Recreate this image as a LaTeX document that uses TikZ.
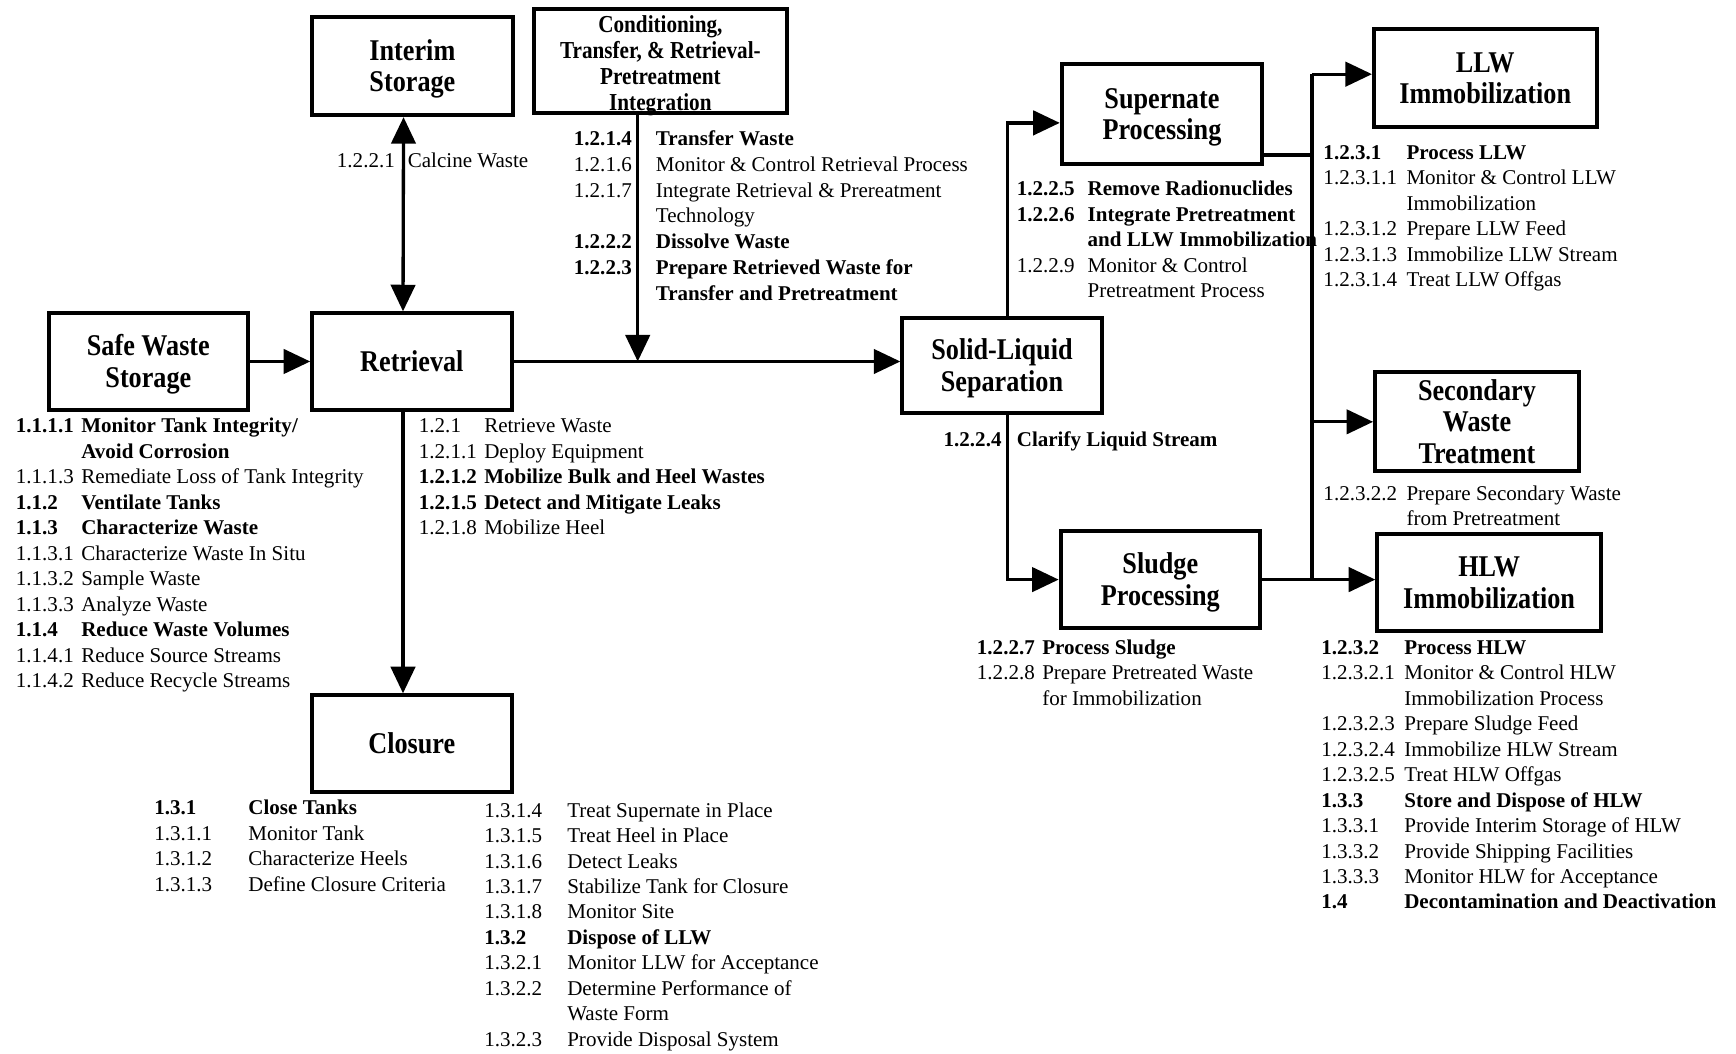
\documentclass[tikz,border=0pt]{standalone}
\usepackage{fontspec}
\setmainfont{Liberation Serif}
\newfontfamily\boxfont{Liberation Serif}[FakeStretch=0.87]
\usepackage{array}
\usetikzlibrary{arrows.meta}
\newcolumntype{R}[1]{>{\raggedleft\arraybackslash}p{#1}}
\newcommand\wbs[2]{\begin{tabular}[t]{@{}p{#1}@{}l@{}}#2\end{tabular}}
\newcommand\wbsr[2]{\begin{tabular}[t]{@{}R{#1}@{\hspace{11pt}}l@{}}#2\end{tabular}}
\newcommand\bd[1]{\textbf{#1}}
\newcommand\bt[1]{\rule{0pt}{12.5pt}#1\rule[-3.5pt]{0pt}{0pt}}
\begin{document}
\begin{tikzpicture}[x=0.5pt, y=-0.5pt,
  box/.style={draw, line width=1.8pt, align=center, inner sep=0pt,
    font=\boxfont\bfseries\fontsize{13.6}{14.3}\selectfont},
  lst/.style={inner sep=0pt, anchor=base west, font=\fontsize{9.5}{11.5}\selectfont},
  lbl/.style={inner sep=0pt, font=\fontsize{9.5}{11.5}\selectfont},
  ln/.style={line width=1.5pt},
  arr/.style={line width=1.5pt, -{Triangle[length=12pt,width=11pt]}},
  darr/.style={line width=1.5pt, {Triangle[length=12pt,width=11pt]}-{Triangle[length=12pt,width=11pt]}}]
\useasboundingbox (0,0) rectangle (1568,952);

% boxes
\node[box, minimum width=90.5pt, minimum height=44.5pt] (int) at (372.5,59.5) {\bt{Interim\\Storage}};
\node[box, minimum width=114.5pt, minimum height=47pt, font=\boxfont\bfseries\fontsize{11}{11.7}\selectfont] (cond) at (596.5,55) {\rule{0pt}{10.65pt}Conditioning,\\Transfer, \& Retrieval-\\Pretreatment\\\raisebox{0pt}[\height][0pt]{Integration}\rule[-1.25pt]{0pt}{0pt}};
\node[box, minimum width=90pt, minimum height=43.5pt] (sws) at (134,326.5) {\bt{Safe Waste\\Storage}};
\node[box, minimum width=90pt, minimum height=43.5pt] (ret) at (372,326.5) {\bt{Retrieval}};
\node[box, minimum width=90pt, minimum height=43.5pt] (clo) at (372,671.5) {\bt{Closure}};
\node[box, minimum width=90pt, minimum height=43pt] (sls) at (905,330) {\bt{Solid-Liquid\\Separation}};
\node[box, minimum width=90.5pt, minimum height=45pt] (sup) at (1049.5,103) {\bt{Supernate\\Processing}};
\node[box, minimum width=90pt, minimum height=43.5pt] (slu) at (1048,523.5) {\bt{Sludge\\Processing}};
\node[box, minimum width=100.5pt, minimum height=44.5pt] (llw) at (1341.5,70.5) {\bt{LLW\\Immobilization}};
\node[box, minimum width=92pt, minimum height=44pt] (sec) at (1334,381) {\bt{Secondary\\Waste\\Treatment}};
\node[box, minimum width=101pt, minimum height=44pt] (hlw) at (1345,526) {\bt{HLW\\Immobilization}};

% connectors
\draw[arr] (sws.east) -- (ret.west);
\draw[darr] ([xshift=-4pt]int.south) -- ([xshift=-4pt]ret.north);
\draw[arr] ([xshift=-4pt]ret.south) -- ([xshift=-4pt]clo.north);
\draw[arr] (ret.east) -- (sls.west |- ret.east);
\draw[arr] ([xshift=-10.25pt]cond.south) -- ([xshift=-10.25pt]cond.south |- ret.east);
\draw[arr] ([xshift=2.5pt]sls.north) |- ([yshift=-4pt]sup.west);
\draw[arr] ([xshift=2.5pt]sls.south) |- (slu.west);
\draw[arr] (slu.east) -- (slu.east -| hlw.west);
\coordinate (btop) at (1185,67);
\coordinate (bbot) at (1185,524);
\draw[ln] ([yshift=-18.5pt]sup.east) -- ([yshift=-18.5pt]sup.east -| btop);
\draw[ln] (btop) -- (bbot);
\draw[arr] (btop) -- (btop -| llw.west);
\draw[arr] (btop |- sec.west) -- (sec.west);

% connector labels
\node[lbl, anchor=base east] (l1221n) at (357,151) {1.2.2.1};
\node[lbl, anchor=base west] (l1221t) at (368,151) {Calcine Waste};
\node[lbl, anchor=base east] (l1224n) at (905,403) {\bd{1.2.2.4}};
\node[lbl, anchor=base west] (l1224t) at (918,403) {\bd{Clarify Liquid Stream}};

% lists
\node[lst, font=\fontsize{9.5}{11.65}\selectfont] (lcond) at (518,131.5) {\wbsr{26pt}{%
\bd{1.2.1.4} & \bd{Transfer Waste}\\
1.2.1.6 & Monitor \& Control Retrieval Process\\
1.2.1.7 & Integrate Retrieval \& Prereatment\\
 & Technology\\
\bd{1.2.2.2} & \bd{Dissolve Waste}\\
\bd{1.2.2.3} & \bd{Prepare Retrieved Waste for}\\
 & \bd{Transfer and Pretreatment}}};

\node[lst] (lsws) at (14,391) {\wbs{29.5pt}{%
\bd{1.1.1.1} & \bd{Monitor Tank Integrity/}\\
 & \bd{Avoid Corrosion}\\
1.1.1.3 & Remediate Loss of Tank Integrity\\
\bd{1.1.2} & \bd{Ventilate Tanks}\\
\bd{1.1.3} & \bd{Characterize Waste}\\
1.1.3.1 & Characterize Waste In Situ\\
1.1.3.2 & Sample Waste\\
1.1.3.3 & Analyze Waste\\
\bd{1.1.4} & \bd{Reduce Waste Volumes}\\
1.1.4.1 & Reduce Source Streams\\
1.1.4.2 & Reduce Recycle Streams}};

\node[lst] (lret) at (378,391) {\wbs{29.5pt}{%
1.2.1 & Retrieve Waste\\
1.2.1.1 & Deploy Equipment\\
\bd{1.2.1.2} & \bd{Mobilize Bulk and Heel Wastes}\\
\bd{1.2.1.5} & \bd{Detect and Mitigate Leaks}\\
1.2.1.8 & Mobilize Heel}};

\node[lst] (lsup) at (918,177) {\wbs{32pt}{%
\bd{1.2.2.5} & \bd{Remove Radionuclides}\\
\bd{1.2.2.6} & \bd{Integrate Pretreatment}\\
 & \bd{and LLW Immobilization}\\
1.2.2.9 & Monitor \& Control\\
 & Pretreatment Process}};

\node[lst] (lllw) at (1195,144) {\wbs{37.5pt}{%
\bd{1.2.3.1} & \bd{Process LLW}\\
1.2.3.1.1 & Monitor \& Control LLW\\
 & Immobilization\\
1.2.3.1.2 & Prepare LLW Feed\\
1.2.3.1.3 & Immobilize LLW Stream\\
1.2.3.1.4 & Treat LLW Offgas}};

\node[lst] (lsec) at (1195,452) {\wbs{37.5pt}{%
1.2.3.2.2 & Prepare Secondary Waste\\
 & from Pretreatment}};

\node[lst] (lslu) at (882,591) {\wbs{29.5pt}{%
\bd{1.2.2.7} & \bd{Process Sludge}\\
1.2.2.8 & Prepare Pretreated Waste\\
 & for Immobilization}};

\node[lst] (lhlw) at (1193,591) {\wbs{37.5pt}{%
\bd{1.2.3.2} & \bd{Process HLW}\\
1.2.3.2.1 & Monitor \& Control HLW\\
 & Immobilization Process\\
1.2.3.2.3 & Prepare Sludge Feed\\
1.2.3.2.4 & Immobilize HLW Stream\\
1.2.3.2.5 & Treat HLW Offgas\\
\bd{1.3.3} & \bd{Store and Dispose of HLW}\\
1.3.3.1 & Provide Interim Storage of HLW\\
1.3.3.2 & Provide Shipping Facilities\\
1.3.3.3 & Monitor HLW for Acceptance\\
\bd{1.4} & \bd{Decontamination and Deactivation}}};

\node[lst] (lclo1) at (139,736) {\wbs{42.5pt}{%
\bd{1.3.1} & \bd{Close Tanks}\\
1.3.1.1 & Monitor Tank\\
1.3.1.2 & Characterize Heels\\
1.3.1.3 & Define Closure Criteria}};

\node[lst] (lclo2) at (437,738) {\wbs{37.5pt}{%
1.3.1.4 & Treat Supernate in Place\\
1.3.1.5 & Treat Heel in Place\\
1.3.1.6 & Detect Leaks\\
1.3.1.7 & Stabilize Tank for Closure\\
1.3.1.8 & Monitor Site\\
\bd{1.3.2} & \bd{Dispose of LLW}\\
1.3.2.1 & Monitor LLW for Acceptance\\
1.3.2.2 & Determine Performance of\\
 & Waste Form\\
1.3.2.3 & Provide Disposal System}};
\end{tikzpicture}
\end{document}
